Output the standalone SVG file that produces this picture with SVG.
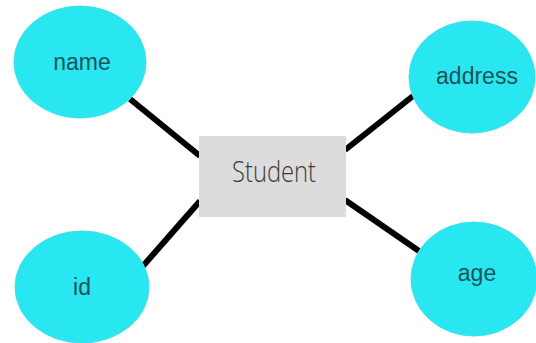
<svg xmlns="http://www.w3.org/2000/svg" width="536" height="343" viewBox="0 0 536 343">
<style>
.attr ellipse{fill:#28e7f0;stroke:#3ee0e8;stroke-width:1}
.attr text{font-family:"Liberation Sans",Arial,sans-serif;font-size:23px;fill:#1b535a;text-anchor:middle}
.conn line{stroke:#000;stroke-width:6;stroke-linecap:butt}
</style>
<rect width="536" height="343" fill="#fff"/>
<g class="conn" id="connectors">
<line x1="130" y1="99" x2="200" y2="156"/>
<line x1="143" y1="266" x2="200" y2="201"/>
<line x1="345" y1="150" x2="413" y2="96"/>
<line x1="345" y1="200" x2="419" y2="251"/>
</g>
<g id="student">
<rect x="199" y="136" width="147" height="81" fill="#dcdcdc"/>
<text x="274" y="182" font-family="'Open Sans',sans-serif" font-size="29" font-weight="300" fill="#3a3a3a" text-anchor="middle" textLength="84" lengthAdjust="spacingAndGlyphs">Student</text>
</g>
<g class="attr" id="name">
<ellipse cx="80" cy="62" rx="66" ry="56"/>
<text x="82" y="70">name</text>
</g>
<g class="attr" id="address">
<ellipse cx="472" cy="77" rx="63" ry="56"/>
<text x="477" y="84">address</text>
</g>
<g class="attr" id="id">
<ellipse cx="82" cy="287" rx="67" ry="56"/>
<text x="82" y="295">id</text>
</g>
<g class="attr" id="age">
<ellipse cx="474" cy="279" rx="63" ry="57"/>
<text x="477" y="281">age</text>
</g>
</svg>
